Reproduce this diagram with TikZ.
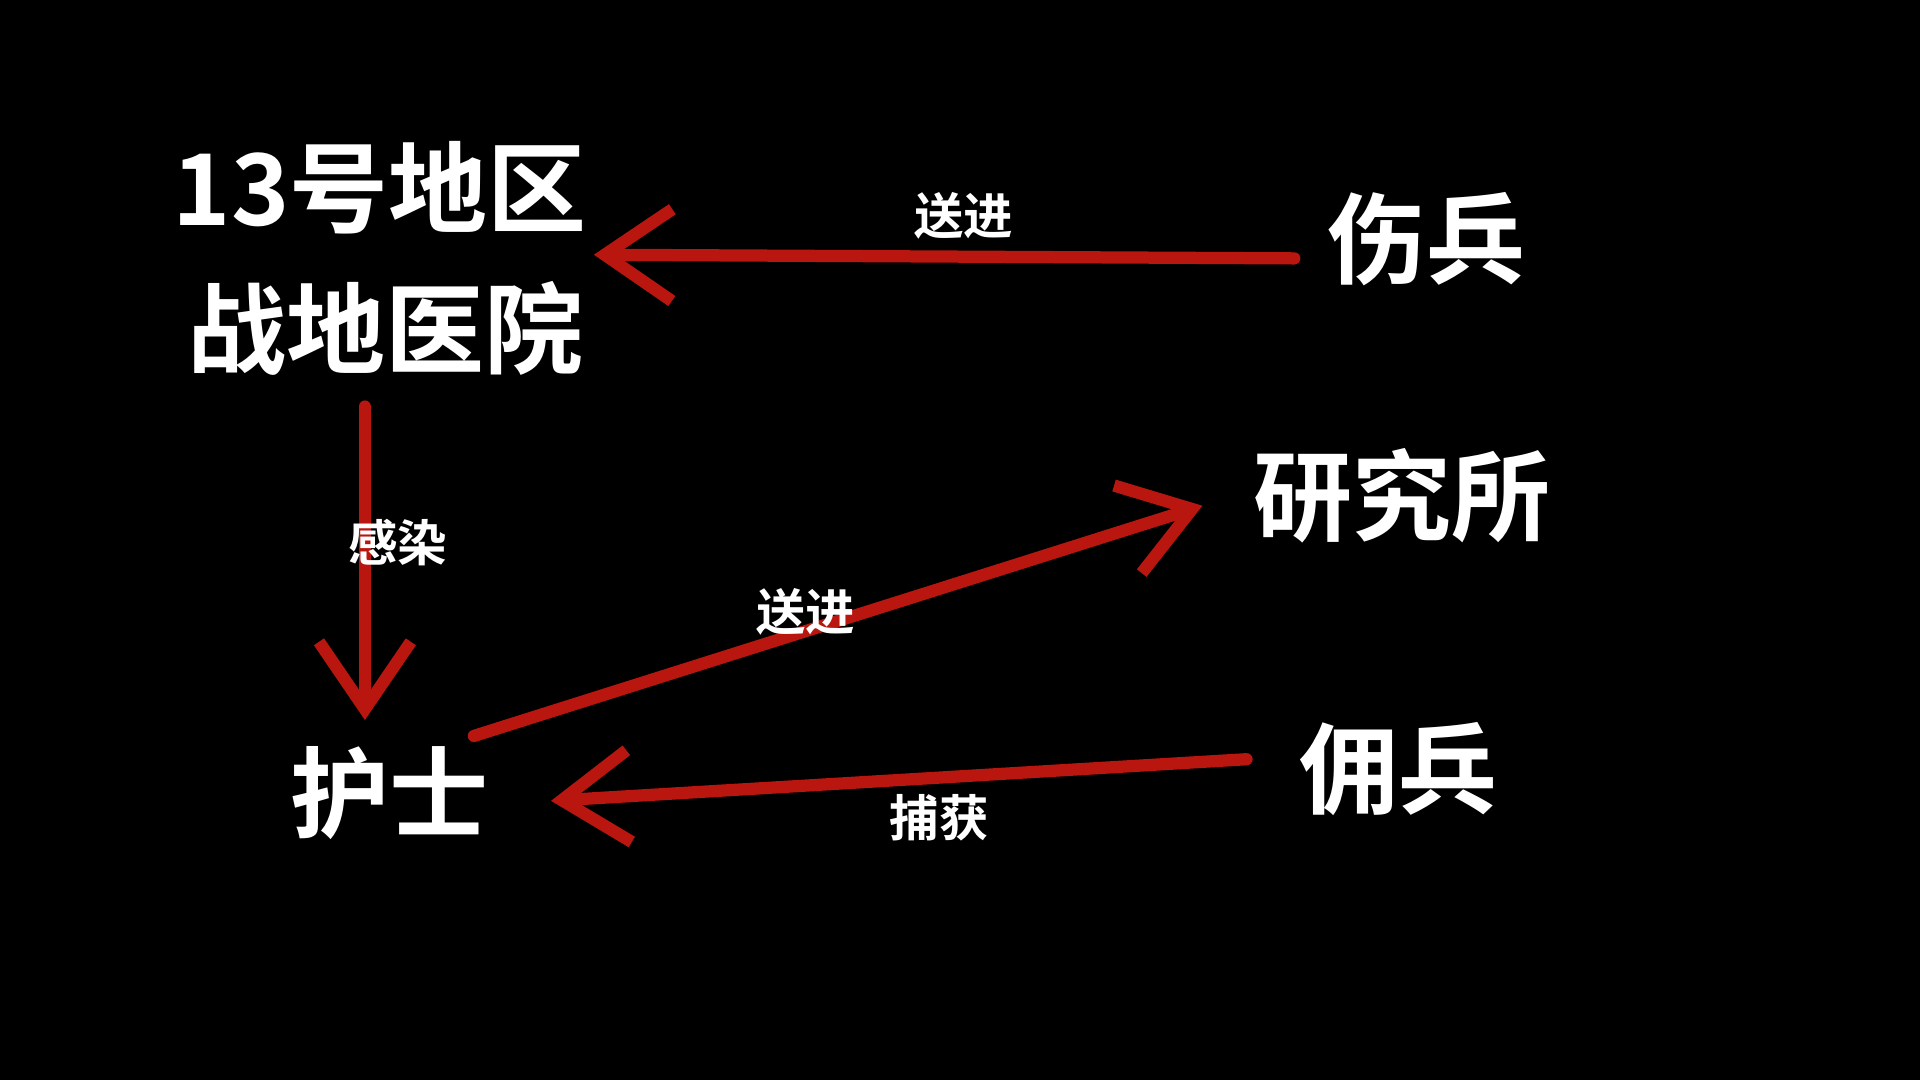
\documentclass[tikz,border=0pt]{standalone}
\usepackage{fontspec}
\setmainfont{Noto Sans CJK SC Bold}
\usetikzlibrary{arrows.meta}
\definecolor{arrred}{HTML}{B8160F}
\tikzset{
  big/.style={text=white,font=\fontsize{23}{27}\selectfont,align=center,inner sep=0pt},
  lbl/.style={text=white,font=\fontsize{11.5}{13}\selectfont,inner sep=0pt},
  conn/.style={draw=arrred,line width=0.1cm,line cap=round,-{Straight Barb[length=0.55cm,width=0.75cm,line width=0.1cm]}}
}
\begin{document}
\begin{tikzpicture}[yscale=-1]
\fill[black] (0,0) rectangle (15.68,8.82);
\useasboundingbox (0,0) rectangle (15.68,8.82);
\node[big] (a1) at (3.10,1.53) {13号地区};
\node[big] (a2) at (3.15,2.68) {战地医院};
\node[big] (b) at (11.65,1.95) {伤兵};
\node[big] (c) at (11.45,4.05) {研究所};
\node[big] (d) at (11.42,6.28) {佣兵};
\node[big] (e) at (3.18,6.48) {护士};
\coordinate (b1) at (10.57,2.11); \coordinate (a1e) at (4.85,2.08);
\coordinate (a2s) at (2.98,3.32); \coordinate (e1) at (2.98,5.88);
\coordinate (e2) at (3.87,6.01); \coordinate (c1) at (9.82,4.13);
\coordinate (d1) at (10.18,6.20); \coordinate (e3) at (4.50,6.54);
\draw[conn] (b1) -- (a1e);
\draw[conn] (a2s) -- (e1);
\draw[conn] (e2) -- (c1);
\draw[conn] (d1) -- (e3);
\node[lbl] (l1) at (7.87,1.76) {送进};
\node[lbl] (l2) at (3.25,4.43) {感染};
\node[lbl] (l3) at (6.58,5.00) {送进};
\node[lbl] (l4) at (7.67,6.68) {捕获};
\end{tikzpicture}
\end{document}
